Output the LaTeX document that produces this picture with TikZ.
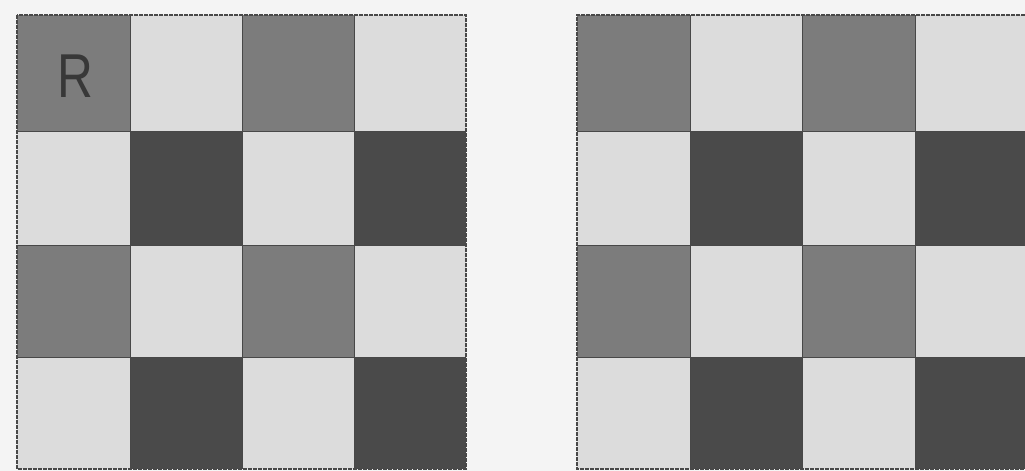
\documentclass[tikz,border=0pt]{standalone}
\usepackage{fontspec}
\setsansfont{Liberation Sans}
\definecolor{bgc}{HTML}{F4F4F4}
\definecolor{midc}{HTML}{7C7C7C}
\definecolor{litc}{HTML}{DCDCDC}
\definecolor{drkc}{HTML}{4A4A4A}
\definecolor{linec}{HTML}{484848}
\definecolor{txtc}{HTML}{383838}
\begin{document}
\begin{tikzpicture}[x=1pt,y=-1pt,
  gridline/.style={draw=linec,line width=1pt},
  border/.style={draw=linec,line width=2pt,dash pattern=on 4pt off 1pt}]
\fill[bgc] (0,0) rectangle (1025,471);
\useasboundingbox (0,0) rectangle (1025,471);
\def\rows{15/131/0,131/245/1,245/357/0,357/469/1}
% left grid
\foreach \ya/\yb/\r in \rows {
  \foreach \xa/\xb/\c in {17/130/0,130/242/1,242/354/0,354/466/1} {
    \pgfmathtruncatemacro{\k}{\r*2+\c}
    \ifcase\k
      \fill[midc] (\xa,\ya) rectangle (\xb,\yb);
    \or
      \fill[litc] (\xa,\ya) rectangle (\xb,\yb);
    \or
      \fill[litc] (\xa,\ya) rectangle (\xb,\yb);
    \or
      \fill[drkc] (\xa,\ya) rectangle (\xb,\yb);
    \fi
  }
}
% right grid
\foreach \ya/\yb/\r in \rows {
  \foreach \xa/\xb/\c in {577/690/0,690/802/1,802/915/0,915/1028/1} {
    \pgfmathtruncatemacro{\k}{\r*2+\c}
    \ifcase\k
      \fill[midc] (\xa,\ya) rectangle (\xb,\yb);
    \or
      \fill[litc] (\xa,\ya) rectangle (\xb,\yb);
    \or
      \fill[litc] (\xa,\ya) rectangle (\xb,\yb);
    \or
      \fill[drkc] (\xa,\ya) rectangle (\xb,\yb);
    \fi
  }
}
% grid lines
\foreach \x in {130,242,354} \draw[gridline] (\x,15) -- (\x,469);
\foreach \y in {131,245,357} \draw[gridline] (17,\y) -- (466,\y);
\foreach \x in {690,802,915} \draw[gridline] (\x,15) -- (\x,469);
\foreach \y in {131,245,357} \draw[gridline] (577,\y) -- (1028,\y);
\draw[border] (17,15) rectangle (466,469);
\draw[border] (1030,15) -- (577,15) -- (577,469) -- (1030,469);
\node[font=\sffamily\fontsize{62}{62}\selectfont,text=txtc,inner sep=0pt,xscale=0.8] (R) at (75,76) {R};
\end{tikzpicture}
\end{document}
